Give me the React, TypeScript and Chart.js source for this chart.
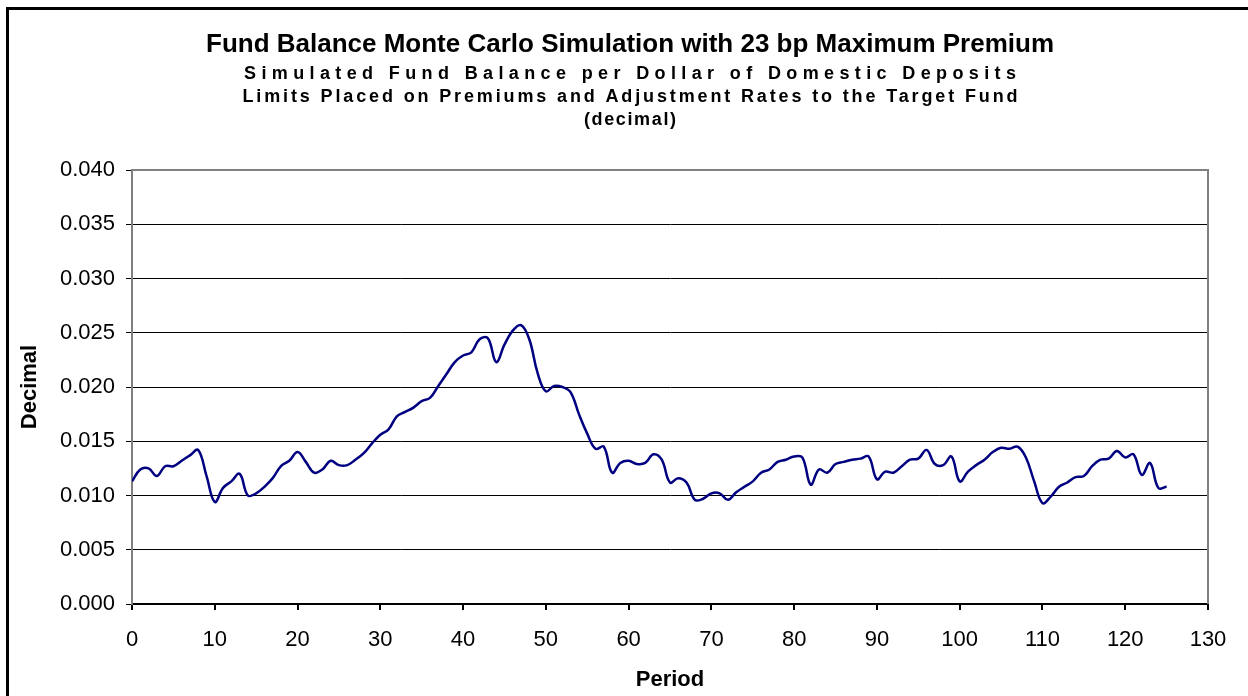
import React, { useEffect, useRef } from "react";
import { Chart, registerables } from "chart.js";

Chart.register(...registerables);

const titleText = "Fund Balance Monte Carlo Simulation with 23 bp Maximum Premium";
const subtitleLines = [
  "Simulated Fund Balance per Dollar of Domestic Deposits",
  "Limits Placed on Premiums and Adjustment Rates to the Target Fund",
  "(decimal)",
];
const xAxisTitle = "Period";
const yAxisTitle = "Decimal";

const balance = [
  0.0113, 0.0124, 0.0125, 0.0118, 0.0127, 0.0127, 0.0132, 0.0137, 0.0142, 0.0118,
  0.0094, 0.0107, 0.0113, 0.0120, 0.0100, 0.0102, 0.0108, 0.0116, 0.0127, 0.0132,
  0.0140, 0.0131, 0.0121, 0.0124, 0.0132, 0.0128, 0.0128, 0.0133, 0.0139, 0.0148,
  0.0156, 0.0161, 0.0173, 0.0177, 0.0181, 0.0187, 0.0190, 0.0201, 0.0212, 0.0223,
  0.0229, 0.0232, 0.0244, 0.0245, 0.0223, 0.0239, 0.0252, 0.0257, 0.0244, 0.0213,
  0.0196, 0.0201, 0.0200, 0.0195, 0.0175, 0.0157, 0.0143, 0.0145, 0.0121, 0.0130,
  0.0132, 0.0129, 0.0130, 0.0138, 0.0133, 0.0112, 0.0116, 0.0112, 0.0096, 0.0097,
  0.0102, 0.0102, 0.0096, 0.0103, 0.0108, 0.0113, 0.0121, 0.0124, 0.0131, 0.0133,
  0.0136, 0.0135, 0.0110, 0.0124, 0.0121, 0.0129, 0.0131, 0.0133, 0.0134, 0.0136,
  0.0115, 0.0122, 0.0121, 0.0127, 0.0133, 0.0134, 0.0142, 0.0129, 0.0128, 0.0136,
  0.0113, 0.0122, 0.0128, 0.0133, 0.0140, 0.0144, 0.0143, 0.0145, 0.0135, 0.0113,
  0.0093, 0.0099, 0.0108, 0.0112, 0.0117, 0.0118, 0.0127, 0.0133, 0.0134, 0.0141,
  0.0135, 0.0138, 0.0119, 0.0130, 0.0107, 0.0108,
];
const periods = balance.map((_, i) => i);

const xMin = 0;
const xMax = 130;
const xStep = 10;
const yMin = 0;
const yMax = 0.04;
const yStep = 0.005;

const FONT = "Arial, 'Liberation Sans', sans-serif";

const titlePlugin = {
  id: "titlesAndFrame",
  afterDraw(chart: any) {
    const ctx = chart.ctx;
    const area = chart.chartArea;
    ctx.save();
    // plot area border (top + right, gray)
    ctx.strokeStyle = "#808080";
    ctx.lineWidth = 2;
    ctx.beginPath();
    ctx.moveTo(area.left, area.top);
    ctx.lineTo(area.right, area.top);
    ctx.lineTo(area.right, area.bottom);
    ctx.stroke();

    const cx = 630;
    ctx.fillStyle = "#000";
    ctx.textBaseline = "middle";
    ctx.textAlign = "center";
    ctx.font = `bold 26px ${FONT}`;
    ctx.fillText(titleText, cx, 45);

    const specs = [
      { y: 74, target: 772 },
      { y: 97, target: 775 },
      { y: 120, target: 92 },
    ];
    ctx.font = `bold 18px ${FONT}`;
    subtitleLines.forEach((t, i) => {
      const s = specs[i];
      (ctx as any).letterSpacing = "0px";
      const w0 = ctx.measureText(t).width;
      const sp = Math.max(0, (s.target - w0) / Math.max(1, t.length - 1));
      (ctx as any).letterSpacing = `${sp}px`;
      ctx.textAlign = "left";
      ctx.fillText(t, cx - s.target / 2, s.y);
    });
    (ctx as any).letterSpacing = "0px";
    ctx.restore();
  },
};

export default function App() {
  const ref = useRef<HTMLCanvasElement | null>(null);
  useEffect(() => {
    if (!ref.current) return;
    const chart = new Chart(ref.current, {
      type: "line",
      data: {
        datasets: [
          {
            data: periods.map((p, i) => ({ x: p, y: balance[i] })),
            borderColor: "#000080",
            borderWidth: 2.5,
            pointRadius: 0,
            tension: 0.4,
            fill: false,
          },
        ],
      },
      options: {
        animation: false,
        responsive: true,
        maintainAspectRatio: false,
        layout: { padding: { top: 170, right: 40, left: 0, bottom: 0 } },
        plugins: {
          legend: { display: false },
          tooltip: { enabled: false },
          title: { display: false },
        },
        scales: {
          x: {
            type: "linear",
            min: xMin,
            max: xMax,
            afterFit: (s: any) => {
              s.height = 92;
            },
            ticks: {
              stepSize: xStep,
              color: "#000",
              font: { family: FONT, size: 22 },
              padding: 17,
              maxRotation: 0,
            },
            grid: {
              drawOnChartArea: false,
              drawTicks: true,
              tickLength: 6,
              color: "#000",
              lineWidth: 2,
            },
            border: { color: "#000", width: 2 },
            title: {
              display: true,
              text: xAxisTitle,
              color: "#000",
              font: { family: FONT, size: 22, weight: "bold" },
              padding: { top: 0, bottom: 3 },
            },
          },
          y: {
            min: yMin,
            max: yMax,
            afterFit: (s: any) => {
              s.width = 132;
            },
            ticks: {
              stepSize: yStep,
              color: "#000",
              font: { family: FONT, size: 22 },
              padding: 11,
              callback: (v: any) => Number(v).toFixed(3),
            },
            grid: {
              drawOnChartArea: true,
              drawTicks: true,
              tickLength: 6,
              color: "#000",
              lineWidth: 1,
            },
            border: { color: "#808080", width: 2 },
            title: {
              display: true,
              text: yAxisTitle,
              color: "#000",
              font: { family: FONT, size: 22, weight: "bold" },
              padding: { top: 17, bottom: 0 },
            },
          },
        },
      },
      plugins: [titlePlugin],
    });
    return () => chart.destroy();
  }, []);

  return (
    <div
      style={{
        position: "fixed",
        left: 0,
        top: 0,
        width: 1248,
        height: 696,
        overflow: "hidden",
        background: "#fff",
      }}
    >
      <div
        style={{
          position: "absolute",
          left: 6,
          top: 7,
          width: 1400,
          height: 900,
          borderLeft: "3px solid #000",
          borderTop: "3px solid #000",
          boxSizing: "border-box",
        }}
      />
      <div style={{ position: "absolute", left: 0, top: 0, width: 1248, height: 696 }}>
        <canvas ref={ref} />
      </div>
    </div>
  );
}
